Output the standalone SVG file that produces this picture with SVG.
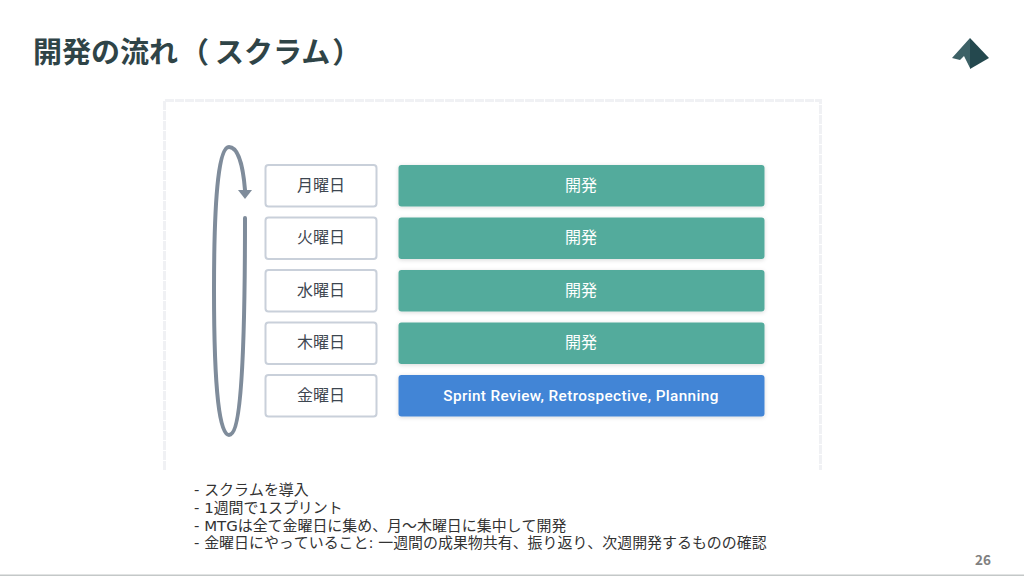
<svg xmlns="http://www.w3.org/2000/svg" width="1024" height="576" viewBox="0 0 1024 576">
<defs>
<filter id="sh" x="-5%" y="-20%" width="110%" height="150%"><feDropShadow dx="0" dy="1" stdDeviation="2" flood-color="#000" flood-opacity="0.15"/></filter>
</defs>
<style>
.day rect{fill:#fff;stroke:#c9d0da;stroke-width:2}
.day text{font:16px "Noto Sans CJK JP",sans-serif;fill:#3d4650;text-anchor:middle}
.bar rect{filter:url(#sh)}
.bar text{font:400 16px "Noto Sans CJK JP",sans-serif;fill:#fff;text-anchor:middle}
.dev rect{fill:#52ab9c}
.rev rect{fill:#4385d6}
.note{font:14.95px "DejaVu Sans","Noto Sans CJK JP",sans-serif;fill:#333;font-kerning:none}
</style>
<rect width="1024" height="576" fill="#fff"/>
<text x="33" y="63" font-family="'Noto Sans CJK JP',sans-serif" font-size="29" font-weight="700" fill="#2f4447">開発の流れ<tspan dx="2">（</tspan><tspan dx="6">スクラム</tspan><tspan dx="2">）</tspan></text>
<g id="logo">
<path d="M970 38L952 58L960 60L964 56L970 68Z" fill="#3d6166"/>
<path d="M970 38L989 58L970 69Z" fill="#24484e"/>
</g>
<path d="M164.500 470V100.500H820.500V470" fill="none" stroke="#f0f1f4" stroke-width="3" stroke-dasharray="9 1"/>
<g id="connectors" fill="none" stroke="#7f8c9b" stroke-width="4" stroke-linecap="round">
<path d="M245 190C243 165 238 147 229 147C220 147 214 185 214 290C214 395 220 435 229 435C238 435 245 395 245 218"/>
<path d="M238 190H252L245 199Z" fill="#7f8c9b" stroke="none"/>
</g>
<g id="day-mon" class="day"><rect x="265.500" y="165" width="111" height="41.500" rx="3"/><text x="321" y="191">月曜日</text></g>
<g id="day-tue" class="day"><rect x="265.500" y="217.500" width="111" height="41.500" rx="3"/><text x="321" y="243">火曜日</text></g>
<g id="day-wed" class="day"><rect x="265.500" y="270" width="111" height="41.500" rx="3"/><text x="321" y="296">水曜日</text></g>
<g id="day-thu" class="day"><rect x="265.500" y="322.500" width="111" height="41.500" rx="3"/><text x="321" y="348">木曜日</text></g>
<g id="day-fri" class="day"><rect x="265.500" y="375" width="111" height="41.500" rx="3"/><text x="321" y="401">金曜日</text></g>
<g id="bar-mon" class="bar dev"><rect x="398.500" y="165" width="366" height="41.500" rx="3"/><text x="581" y="191">開発</text></g>
<g id="bar-tue" class="bar dev"><rect x="398.500" y="217.500" width="366" height="41.500" rx="3"/><text x="581" y="243">開発</text></g>
<g id="bar-wed" class="bar dev"><rect x="398.500" y="270" width="366" height="41.500" rx="3"/><text x="581" y="296">開発</text></g>
<g id="bar-thu" class="bar dev"><rect x="398.500" y="322.500" width="366" height="41.500" rx="3"/><text x="581" y="348">開発</text></g>
<g id="bar-fri" class="bar rev"><rect x="398.500" y="375" width="366" height="41.500" rx="3"/><text x="581" y="401" style="font:500 15.3px Roboto,sans-serif;letter-spacing:.38px">Sprint Review, Retrospective, Planning</text></g>
<text class="note" x="194" y="494.500">- スクラムを導入</text>
<text class="note" x="194" y="512.500">- 1週間で1スプリント</text>
<text class="note" x="194" y="530.500">- MTGは全て金曜日に集め、月〜木曜日に集中して開発</text>
<text class="note" x="194" y="547.500">- 金曜日にやっていること: 一週間の成果物共有、振り返り、次週開発するものの確認</text>
<text x="991" y="565" text-anchor="end" font-family="'Noto Sans CJK JP',sans-serif" font-size="13.500" font-weight="700" fill="#808080">26</text>
<rect y="574.500" width="1024" height="1.500" fill="#c4c8c8"/>
</svg>
